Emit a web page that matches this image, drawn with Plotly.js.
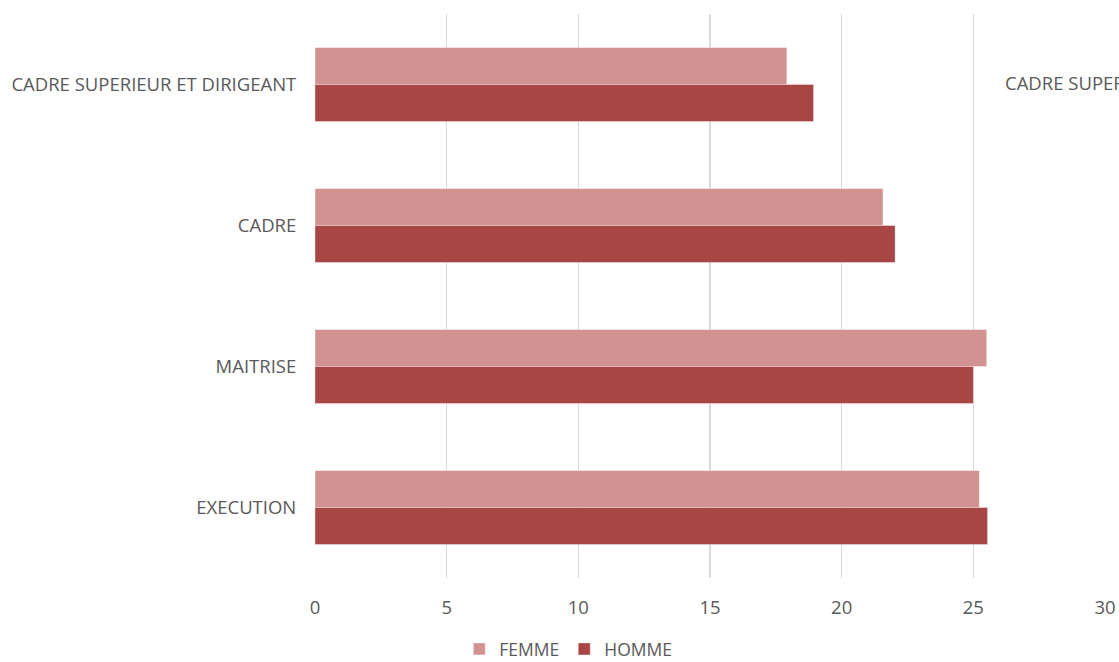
<!DOCTYPE html>
<html>
<head>
<meta charset="utf-8">
<script src="https://cdn.plot.ly/plotly-3.0.1.min.js"></script>
<style>html,body{margin:0;padding:0;background:#fff;overflow:hidden}#chart{width:1119px;height:662px}</style>
</head>
<body>
<div id="chart"></div>
<script>
const categories = ["CADRE SUPERIEUR ET DIRIGEANT", "CADRE", "MAITRISE", "EXECUTION"];
const femme = [17.92, 21.57, 25.51, 25.23];
const homme = [18.93, 22.03, 25.0, 25.54];
const seriesNames = ["FEMME", "HOMME"];
const xTicks = [0, 5, 10, 15, 20, 25, 30];

const fontFam = '"Open Sans", "Liberation Sans", sans-serif';
const txt = '#595959';
const fs = 18.5;

const traces = [
  {type: 'bar', orientation: 'h', name: seriesNames[0], y: categories, x: femme,
   marker: {color: '#D39292', line: {color: 'rgba(255,255,255,0.45)', width: 1}}, hoverinfo: 'x+y'},
  {type: 'bar', orientation: 'h', name: seriesNames[1], y: categories, x: homme,
   marker: {color: '#A84646', line: {color: 'rgba(255,255,255,0.35)', width: 1}}, hoverinfo: 'x+y'}
];

const layout = {
  width: 1119, height: 662,
  margin: {l: 315, r: 14, t: 14, b: 84},
  paper_bgcolor: '#fff', plot_bgcolor: '#fff',
  barmode: 'group', bargap: 0.475, bargroupgap: 0,
  font: {family: fontFam, size: fs, color: txt},
  xaxis: {range: [0, 30], tickvals: xTicks, ticktext: xTicks.map(String), automargin: false,
    showgrid: true, gridcolor: '#d9d9d9', gridwidth: 1.3, zeroline: false, showline: false,
    ticks: 'outside', ticklen: 13, tickcolor: 'rgba(0,0,0,0)',
    tickfont: {family: fontFam, size: fs, color: txt}, fixedrange: true},
  yaxis: {type: 'category', autorange: 'reversed', automargin: false, showgrid: false, zeroline: false, showline: false,
    ticks: 'outside', ticklen: 14, tickcolor: 'rgba(0,0,0,0)',
    tickfont: {family: fontFam, size: fs, color: txt}, fixedrange: true},
  legend: {orientation: 'h', xref: 'paper', x: 0.3206, xanchor: 'center', yref: 'container', y: 13 / 662, yanchor: 'middle',
    font: {family: fontFam, size: 17.5, color: txt}, itemwidth: 30, traceorder: 'normal'},
  annotations: [{xref: 'paper', yref: 'y', x: 0.8709, y: categories[0], xanchor: 'left', yanchor: 'middle', yshift: 2,
    text: categories[0], showarrow: false, font: {family: fontFam, size: fs, color: txt}}]
};

Plotly.newPlot('chart', traces, layout, {displayModeBar: false, staticPlot: true});
</script>
</body>
</html>
